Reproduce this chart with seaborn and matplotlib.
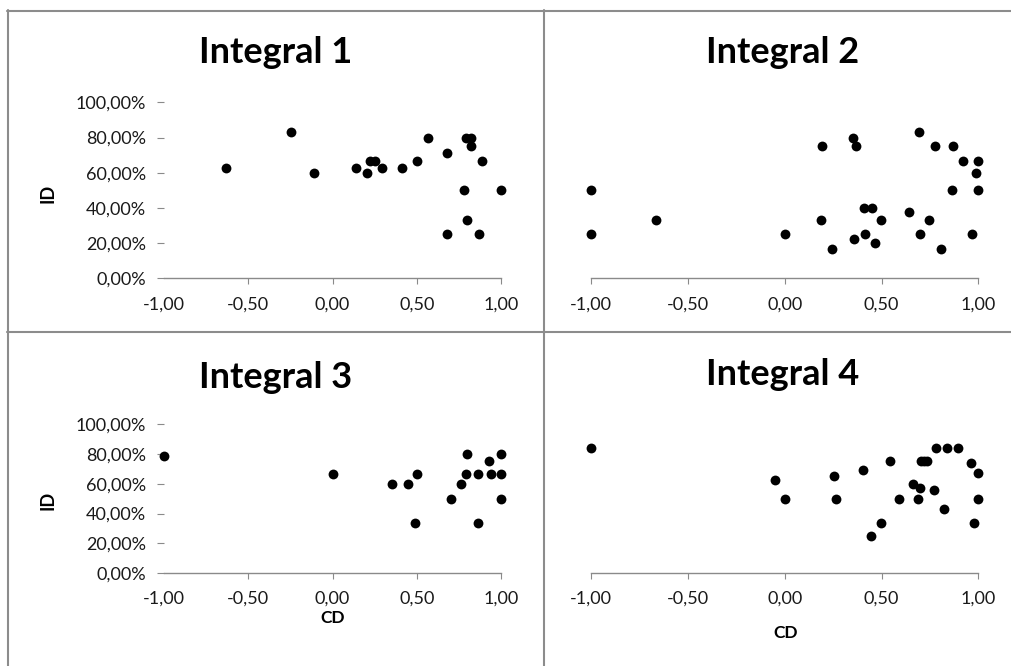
import matplotlib
matplotlib.use("Agg")
import matplotlib.pyplot as plt
import seaborn as sns
import pandas as pd
from matplotlib.ticker import FuncFormatter, FixedLocator
from matplotlib.lines import Line2D

# ---------------- data ----------------
titles = ["Integral 1", "Integral 2", "Integral 3", "Integral 4"]

cd1 = [-0.63, -0.245, -0.11, 0.14, 0.205, 0.225, 0.255, 0.295, 0.41, 0.50, 0.565,
       0.68, 0.795, 0.82, 0.82, 0.89, 0.78, 1.00, 0.80, 0.68, 0.87]
id1 = [0.625, 0.833, 0.60, 0.625, 0.60, 0.667, 0.667, 0.625, 0.625, 0.667, 0.80,
       0.714, 0.80, 0.80, 0.75, 0.667, 0.50, 0.50, 0.333, 0.25, 0.25]

cd2 = [-1.00, -1.00, -0.667, 0.00, 0.19, 0.185, 0.245, 0.35, 0.37, 0.357, 0.408,
       0.452, 0.413, 0.468, 0.496, 0.642, 0.696, 0.70, 0.746, 0.775, 0.807, 0.869,
       0.862, 0.92, 1.00, 0.99, 1.00, 0.97]
id2 = [0.50, 0.25, 0.333, 0.25, 0.75, 0.333, 0.167, 0.80, 0.75, 0.222, 0.40,
       0.40, 0.25, 0.20, 0.333, 0.375, 0.833, 0.25, 0.333, 0.75, 0.167, 0.75,
       0.50, 0.667, 0.667, 0.60, 0.50, 0.25]

cd3 = [-1.00, 0.00, 0.355, 0.45, 0.50, 0.49, 0.705, 0.765, 0.79, 0.80, 0.865,
       0.865, 0.93, 0.94, 1.00, 1.00, 1.00]
id3 = [0.785, 0.667, 0.60, 0.60, 0.667, 0.333, 0.50, 0.60, 0.667, 0.80, 0.667,
       0.333, 0.75, 0.667, 0.80, 0.667, 0.50]

cd4 = [-1.00, -0.05, 0.00, 0.255, 0.265, 0.405, 0.445, 0.495, 0.545, 0.59, 0.66,
       0.70, 0.69, 0.705, 0.72, 0.735, 0.77, 0.78, 0.825, 0.84, 0.895, 0.96,
       1.00, 1.00, 0.98]
id4 = [0.84, 0.625, 0.50, 0.65, 0.50, 0.69, 0.25, 0.333, 0.75, 0.50, 0.60,
       0.571, 0.50, 0.75, 0.75, 0.75, 0.556, 0.84, 0.429, 0.84, 0.84, 0.74,
       0.67, 0.50, 0.333]

x_ticks = [-1.0, -0.5, 0.0, 0.5, 1.0]
y_ticks = [0.0, 0.2, 0.4, 0.6, 0.8, 1.0]
x_label = "CD"
y_label = "ID"

# ---------------- style ----------------
sns.set_theme(style="white")
plt.rcParams["font.family"] = ["Lato", "DejaVu Sans"]

W, H = 1011, 666
fig = plt.figure(figsize=(W / 100, H / 100), dpi=100)

def rect(x0, x1, ytop, ybot):
    return [x0 / W, 1 - ybot / H, (x1 - x0) / W, (ybot - ytop) / H]

rects = [
    rect(164, 501, 102.3, 278.3),
    rect(591.3, 978.3, 102.3, 278.3),
    rect(164, 501, 424.3, 573),
    rect(591.3, 978.3, 424.3, 573),
]
data = [(cd1, id1), (cd2, id2), (cd3, id3), (cd4, id4)]

xfmt = FuncFormatter(lambda v, p: f"{v:.2f}".replace(".", ","))
yfmt = FuncFormatter(lambda v, p: f"{v*100:.2f}%".replace(".", ","))

axes = []
for i, (r, (cx, iy)) in enumerate(zip(rects, data)):
    ax = fig.add_axes(r)
    df = pd.DataFrame({"CD": cx, "ID": iy})
    sns.scatterplot(data=df, x="CD", y="ID", ax=ax, color="black", s=50,
                    edgecolor="black", linewidth=0, clip_on=False, legend=False)
    ax.set_xlim(-1, 1)
    ax.set_ylim(0, 1)
    ax.set_xlabel("")
    ax.set_ylabel("")
    for s in ["top", "right", "left"]:
        ax.spines[s].set_visible(False)
    ax.spines["bottom"].set_color("#8a8a8a")
    ax.spines["bottom"].set_linewidth(1.0)
    ax.xaxis.set_major_locator(FixedLocator(x_ticks))
    ax.xaxis.set_major_formatter(xfmt)
    ax.tick_params(axis="x", direction="out", length=4, width=0.8, color="#8a8a8a",
                   labelsize=13, labelcolor="#1a1a1a", pad=9, bottom=True)
    if i % 2 == 0:
        ax.yaxis.set_major_locator(FixedLocator(y_ticks))
        ax.yaxis.set_major_formatter(yfmt)
        ax.tick_params(axis="y", direction="out", length=5, width=0.8, color="#8a8a8a",
                       labelsize=13, labelcolor="#1a1a1a", pad=8, left=True)
        ax.xaxis.get_major_ticks()[0].tick1line.set_visible(False)
    else:
        ax.set_yticks([])
    ax.set_facecolor("none")
    axes.append(ax)

# titles
title_pos = [(275.5, 63.3), (783, 63.3), (275.5, 388.3), (783, 385)]
for t, (x, y) in zip(titles, title_pos):
    fig.text(x / W, 1 - y / H, t, ha="center", va="baseline",
             fontsize=26, fontweight="bold", color="black")

# axis labels
for (x, y) in [(48, 193), (48, 500)]:
    fig.text(x / W, 1 - y / H, y_label, rotation=90, ha="center", va="center",
             fontsize=13, fontweight="bold", color="black")
for (x, y) in [(333, 618), (785.3, 633)]:
    fig.text(x / W, 1 - y / H, x_label, ha="center", va="center",
             fontsize=12.5, fontweight="bold", color="black")

# panel borders
bc = "#8c8c8c"
lw = 1.5
def hline(y, x0, x1):
    fig.add_artist(Line2D([x0 / W, x1 / W], [1 - y / H, 1 - y / H], color=bc, lw=lw,
                          transform=fig.transFigure))
def vline(x, y0, y1):
    fig.add_artist(Line2D([x / W, x / W], [1 - y0 / H, 1 - y1 / H], color=bc, lw=lw,
                          transform=fig.transFigure))
hline(10.5, 7, W)
hline(332, 7, W)
vline(7.5, 10, H)
vline(543.5, 10, H)

fig.savefig("out.png", dpi=100, facecolor="white")
